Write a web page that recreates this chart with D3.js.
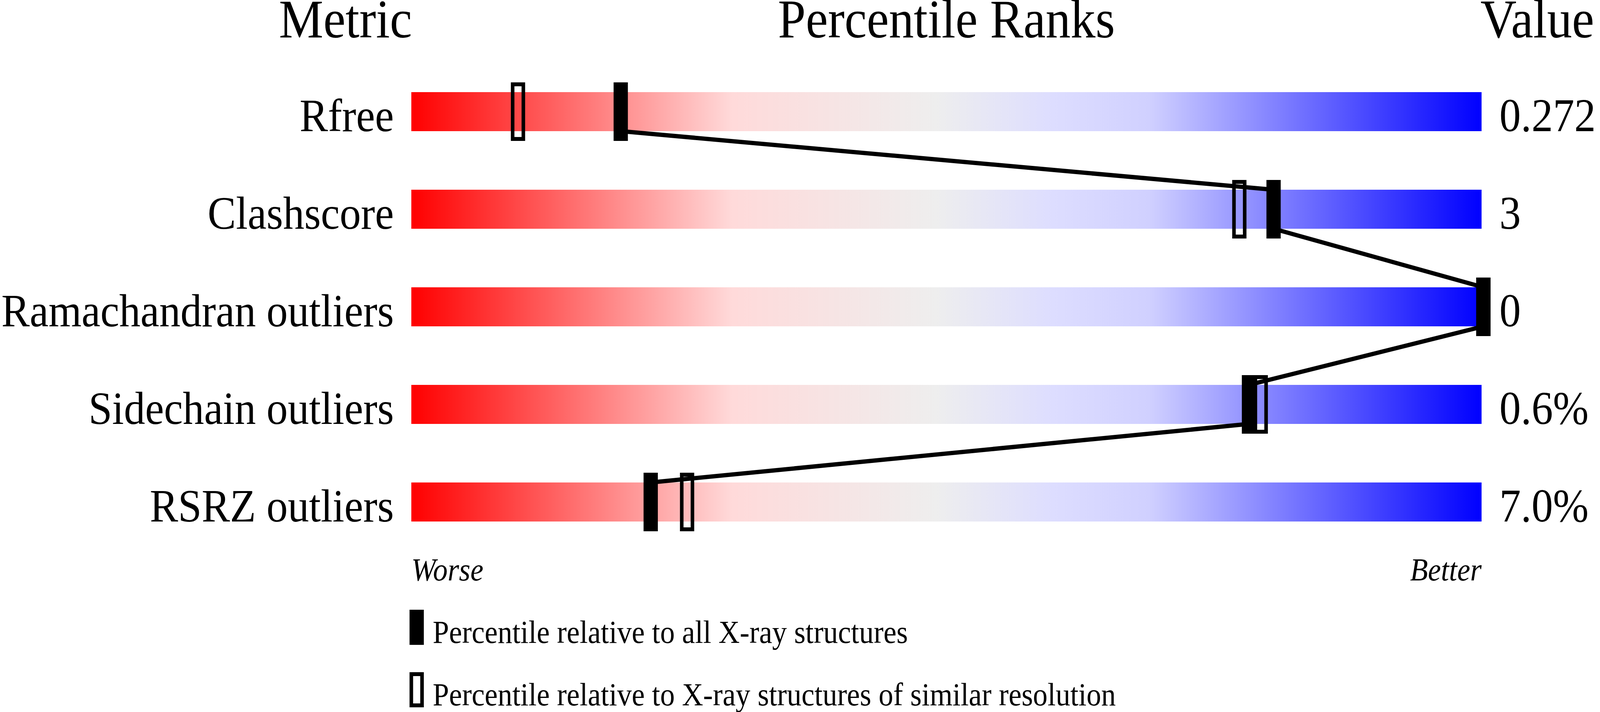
<!DOCTYPE html>
<html>
<head>
<meta charset="utf-8">
<script src="https://cdn.jsdelivr.net/npm/d3@7"></script>
<style>
  html, body { margin: 0; padding: 0; background: white; overflow: hidden; }
  svg { display: block; width: 100vw; height: 100vh; }
  text { font-family: "Liberation Serif", "Times New Roman", serif; fill: black; }
</style>
</head>
<body>
<div id="slider"></div>
<script>
// Sizes (drawing units, the svg is stretched to the window)
const width = 4485;
const height = 1824;
const barLeft = 1153;
const barRight = 4153;
const barHeight = 100;
const markerW = 40;
const markerOver = 25;

// Data
const metrics = ["Rfree", "Clashscore", "Ramachandran outliers", "Sidechain outliers", "RSRZ outliers"];
const values = ["0.272", "3", "0", "0.6%", "7.0%"];
const pctAll = [19.4, 80.4, 100, 78.1, 22.2];
const pctRes = [9.8, 77.2, 100, 79.2, 25.6];
const legendLabels = ["Percentile relative to all X-ray structures",
                      "Percentile relative to X-ray structures of similar resolution"];

let x = d3.scaleLinear().domain([0, 100]).range([barLeft, barRight]);
let y = d3.scalePoint().domain(metrics).range([236, 1236]);

let svg = d3.select("#slider").append("svg")
            .attr("viewBox", "0 0 " + width + " " + height)
            .attr("preserveAspectRatio", "none")

let grad = svg.append("defs").append("linearGradient")
              .attr("id", "rank")
              .attr("x1", "0%").attr("x2", "100%")
              .attr("y1", "0%").attr("y2", "0%")

grad.selectAll("stop")
    .data([[0, "#ff0000"], [0.3, "#ffdada"], [0.49, "#eeeeee"], [0.6, "#ddddff"], [0.69, "#d0d0ff"], [1, "#0000ff"]])
    .enter().append("stop")
    .attr("offset", function(d) { return d[0] })
    .attr("stop-color", function(d) { return d[1] })

// Headers
svg.append("text").attr("x", barLeft + 2).attr("y", 96)
   .attr("text-anchor", "end").style("font-size", "140px").text("Metric")
svg.append("text").attr("x", (barLeft + barRight) / 2).attr("y", 96)
   .attr("text-anchor", "middle").style("font-size", "140px").text("Percentile Ranks")
svg.append("text").attr("x", barRight - 3).attr("y", 96)
   .style("font-size", "140px").text("Value")

let row = svg.selectAll("g.row")
             .data(metrics)
             .enter()
             .append("g")
             .attr("class", "row")
             .attr("transform", function(d) { return "translate(0," + y(d) + ")" })

row.append("rect")
   .attr("x", barLeft)
   .attr("width", barRight - barLeft)
   .attr("height", barHeight)
   .style("fill", "url(#rank)")

row.append("text")
   .attr("x", barLeft - 49)
   .attr("y", barHeight)
   .attr("text-anchor", "end")
   .style("font-size", "119px")
   .text(function(d) { return d })

row.append("text")
   .attr("x", barRight + 50)
   .attr("y", barHeight)
   .style("font-size", "120px")
   .text(function(d, i) { return values[i] })

// Line joining the filled markers
let pts = [];
metrics.forEach(function(m, i) {
    let cx = x(pctAll[i]) + 5;
    pts.push([cx, y(m)]);
    pts.push([cx, y(m) + barHeight]);
});
svg.append("path")
   .attr("d", d3.line()(pts))
   .style("fill", "none")
   .style("stroke", "black")
   .style("stroke-width", 11)

// Hollow markers (similar resolution)
svg.selectAll("rect.res")
   .data(metrics)
   .enter().append("rect")
   .attr("class", "res")
   .attr("x", function(d, i) { return x(pctRes[i]) - 15 + 5 })
   .attr("y", function(d) { return y(d) - markerOver + 5 })
   .attr("width", markerW - 10)
   .attr("height", barHeight + 2 * markerOver - 10)
   .style("fill", "none")
   .style("stroke", "black")
   .style("stroke-width", 10)

// Filled markers (all structures)
svg.selectAll("rect.all")
   .data(metrics)
   .enter().append("rect")
   .attr("class", "all")
   .attr("x", function(d, i) { return x(pctAll[i]) - 15 })
   .attr("y", function(d) { return y(d) - markerOver })
   .attr("width", markerW)
   .attr("height", barHeight + 2 * markerOver)
   .style("fill", "black")

svg.append("text").attr("x", barLeft).attr("y", 1487)
   .style("font-size", "82px").style("font-style", "italic").text("Worse")
svg.append("text").attr("x", barRight).attr("y", 1487)
   .attr("text-anchor", "end")
   .style("font-size", "82px").style("font-style", "italic").text("Better")

// Legend
let leg = svg.selectAll("g.leg")
             .data(legendLabels)
             .enter().append("g")
             .attr("class", "leg")
             .attr("transform", function(d, i) { return "translate(1148," + (1562 + i * 160) + ")" })

leg.append("rect")
   .attr("x", function(d, i) { return i == 0 ? 0 : 5 })
   .attr("y", function(d, i) { return i == 0 ? 0 : 5 })
   .attr("width", function(d, i) { return i == 0 ? 40 : 30 })
   .attr("height", function(d, i) { return i == 0 ? 90 : 80 })
   .style("fill", function(d, i) { return i == 0 ? "black" : "none" })
   .style("stroke", function(d, i) { return i == 0 ? "none" : "black" })
   .style("stroke-width", 10)

leg.append("text")
   .attr("x", 65)
   .attr("y", 85)
   .style("font-size", "82px")
   .text(function(d) { return d })
</script>
</body>
</html>
